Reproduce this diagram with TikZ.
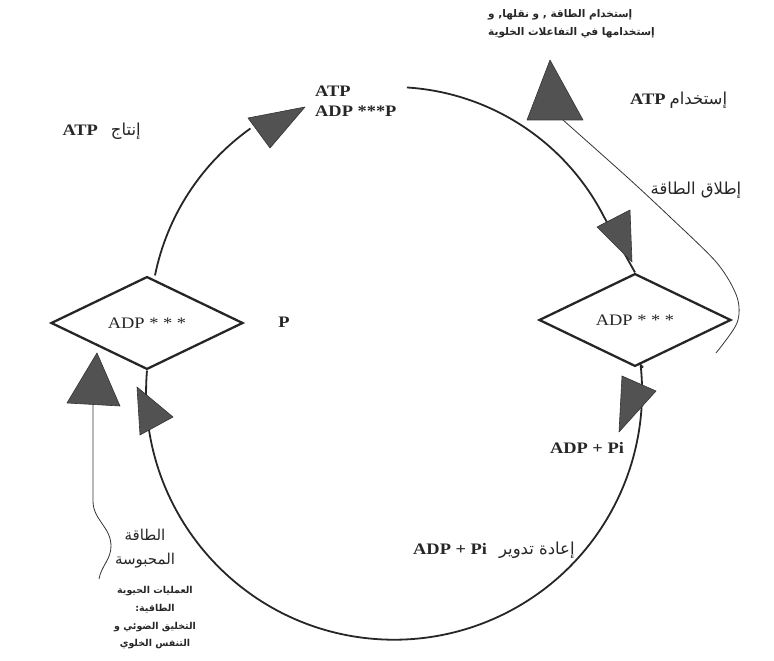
\documentclass[tikz,border=0pt]{standalone}
\usepackage{fontspec}
\setmainfont{Liberation Serif}
\newfontfamily\labfont[FakeStretch=1.15]{Liberation Serif}
\newfontfamily\arabicfont[Script=Arabic]{DejaVu Sans}
\TeXXeTstate=1
\usetikzlibrary{shapes.geometric,positioning,calc}

% arabic words, right to left
\newcommand\artxt[1]{{\arabicfont\beginR #1\endR}}
\newcommand\arword[1]{{\arabicfont\mdseries\fontsize{16.5}{18}\selectfont\beginR #1\endR}}

\begin{document}
\begin{tikzpicture}[x=1pt,y=1pt,
    adp/.style={diamond,draw=black!85,line width=2.3pt,minimum width=192pt,minimum height=92pt,inner sep=1pt,font=\labfont\fontsize{16}{18}\selectfont,text=black!85},
    loopline/.style={line width=1.8pt,draw=black!85},
    hint/.style={line width=.8pt,draw=black!80},
    head/.style={fill=black!68,draw=black!80,line width=.6pt,line join=round},
    lab/.style={font=\labfont\bfseries\fontsize{16}{20}\selectfont,text=black!85,inner sep=0pt},
    ar/.style={font=\arabicfont\fontsize{16.5}{24}\selectfont,text=black!85,inner sep=0pt},
    arb/.style={font=\arabicfont\bfseries\fontsize{9.5}{17.7}\selectfont,text=black!85,inner sep=0pt}]
  \useasboundingbox (0,0) rectangle (774,661);

  % the two ADP diamonds
  \node[adp] (L) at (147,338) {ADP * * *};
  \node[adp] (R) at (635,341) {ADP * * *};
  \coordinate (hub) at (392,336);

  % upper half of the cycle
  \draw[loopline] ([xshift=8pt]L.north) arc[start angle=168.6,end angle=125.4,radius=238];
  \draw[loopline] ([shift={(86.4:238)}]hub) arc[start angle=86.4,end angle=27.1,radius=238] -- (R.north);
  % lower half
  \draw[loopline] (L.south) arc[start angle=175.1,end angle=366.2,radius=248] -- ([xshift=8pt]R.south);

  % thin energy lines
  \draw[hint] (93,256) -- (93,160) to[out=-90,in=90] (111,115) to[out=-90,in=80] (99,82);
  \draw[hint] plot[smooth] coordinates {(563,541) (627,484) (670,444) (717,398) (737,364) (737,338) (716,308)};

  % arrow heads
  \path[head] (305,554) -- (248,543) -- (270,513) -- cycle;
  \path[head] (597,434) -- (630,451) -- (632,399) -- cycle;
  \path[head] (137,274) -- (173,244) -- (140,226) -- cycle;
  \path[head] (622,285) -- (656,270) -- (619,229) -- cycle;
  \path[head] (97,308) -- (67,258) -- (120,255) -- cycle;
  \path[head] (550,601) -- (527,541) -- (583,541) -- cycle;

  % labels
  \node[lab,align=left,anchor=north west] (atp) at (315,575) {ATP\\ADP ***P};
  \node[lab,anchor=east] (make) at (141,530) {ATP\hspace{13pt}\arword{إنتاج}};
  \node[lab,anchor=west] (use) at (630,561) {ATP\hspace{4pt}\arword{إستخدام}};
  \node[ar] (free) at (696,471) {\artxt{إطلاق الطاقة}};
  \node[lab] (p) at (284,339) {P};
  \node[lab] (pi) at (587,213) {ADP + Pi};
  \node[lab,anchor=west] (recyc) at (413,111) {ADP + Pi\hspace{12pt}\arword{إعادة تدوير}};
  \node[arb,font=\arabicfont\bfseries\fontsize{10.5}{18}\selectfont,align=left,anchor=north west] (cell) at (488,652)
    {\artxt{إستخدام الطاقة , و نقلها, و}\\\artxt{إستخدامها في التفاعلات الخلوية}};
  \node[ar,font=\arabicfont\fontsize{15}{24}\selectfont,align=center] (stored) at (145,112) {\artxt{الطاقة}\\\artxt{المحبوسة}};
  \node[arb,align=center] (bio) at (155,43)
    {\artxt{العمليات الحيوية}\\\artxt{الطاقية:}\\\artxt{التخليق الضوئي و}\\\artxt{التنفس الخلوي}};
\end{tikzpicture}
\end{document}
